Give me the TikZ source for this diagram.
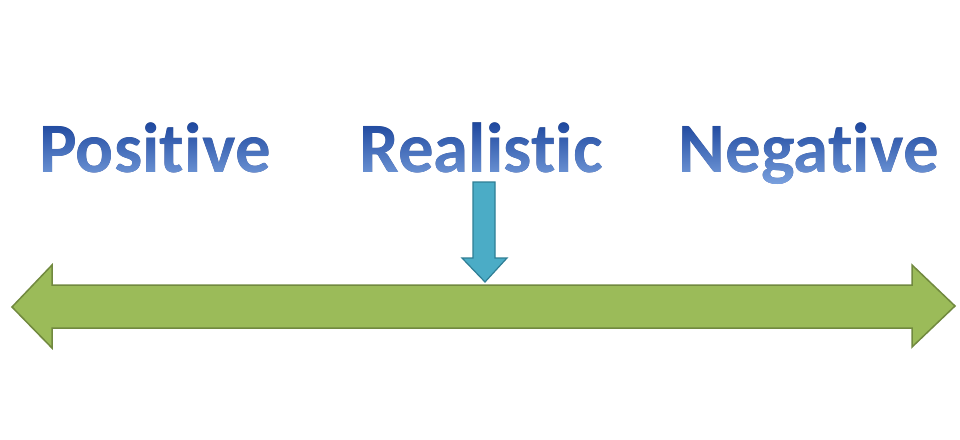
\documentclass[tikz,border=0pt]{standalone}
\usepackage{fontspec}
\newfontfamily\carl{Carlito}[Ligatures=NoCommon,Contextuals=NoAlternate]
\usetikzlibrary{shapes.arrows}
\definecolor{txtnavy}{HTML}{123A8A}
\definecolor{txttop}{HTML}{1A449C}
\definecolor{txtmid}{HTML}{2A5DB5}
\definecolor{txtbot}{HTML}{86ACE6}
\definecolor{grfill}{HTML}{9BBB59}
\definecolor{grline}{HTML}{71893F}
\definecolor{aqfill}{HTML}{4BACC6}
\definecolor{aqline}{HTML}{2F7E95}
\tikzset{
  word/.style={anchor=base, inner sep=0pt, text=txtnavy, font=\carl\bfseries\fontsize{71}{71}\selectfont},
  greenarrow/.style={fill=grfill, draw=grline, line width=1.5pt, line join=miter},
  bluearrow/.style={fill=aqfill, draw=aqline, line width=1.2pt, line join=miter},
  textshade/.style={top color=txttop, middle color=txtmid, bottom color=txtbot, draw=none, blend mode=lighten}
}
\begin{document}
\begin{tikzpicture}[x=1pt,y=-1pt]
\useasboundingbox (0,0) rectangle (960,439);
\fill[white] (0,0) rectangle (960,439);
% words
\node[word] (pos) at (155,172) {Posit\kern0pt ive};
\node[word] (real) at (481,172) {Realist\kern0pt ic};
\node[word] (neg) at (809,172) {Negat\kern0pt ive};
\begin{scope}
\fill[textshade] (0,120) rectangle (960,192);
\end{scope}
% green double arrow
\draw[greenarrow] (12,307) -- (52,265) -- (52,285) -- (912,285) -- (912,265)
  -- (955,306) -- (912,347) -- (912,328) -- (52,328) -- (52,348) -- cycle;
% blue down arrow
\draw[bluearrow] (473,182) -- (495,182) -- (495,258) -- (507,258) -- (485,282)
  -- (462,258) -- (473,258) -- cycle;
\end{tikzpicture}
\end{document}
